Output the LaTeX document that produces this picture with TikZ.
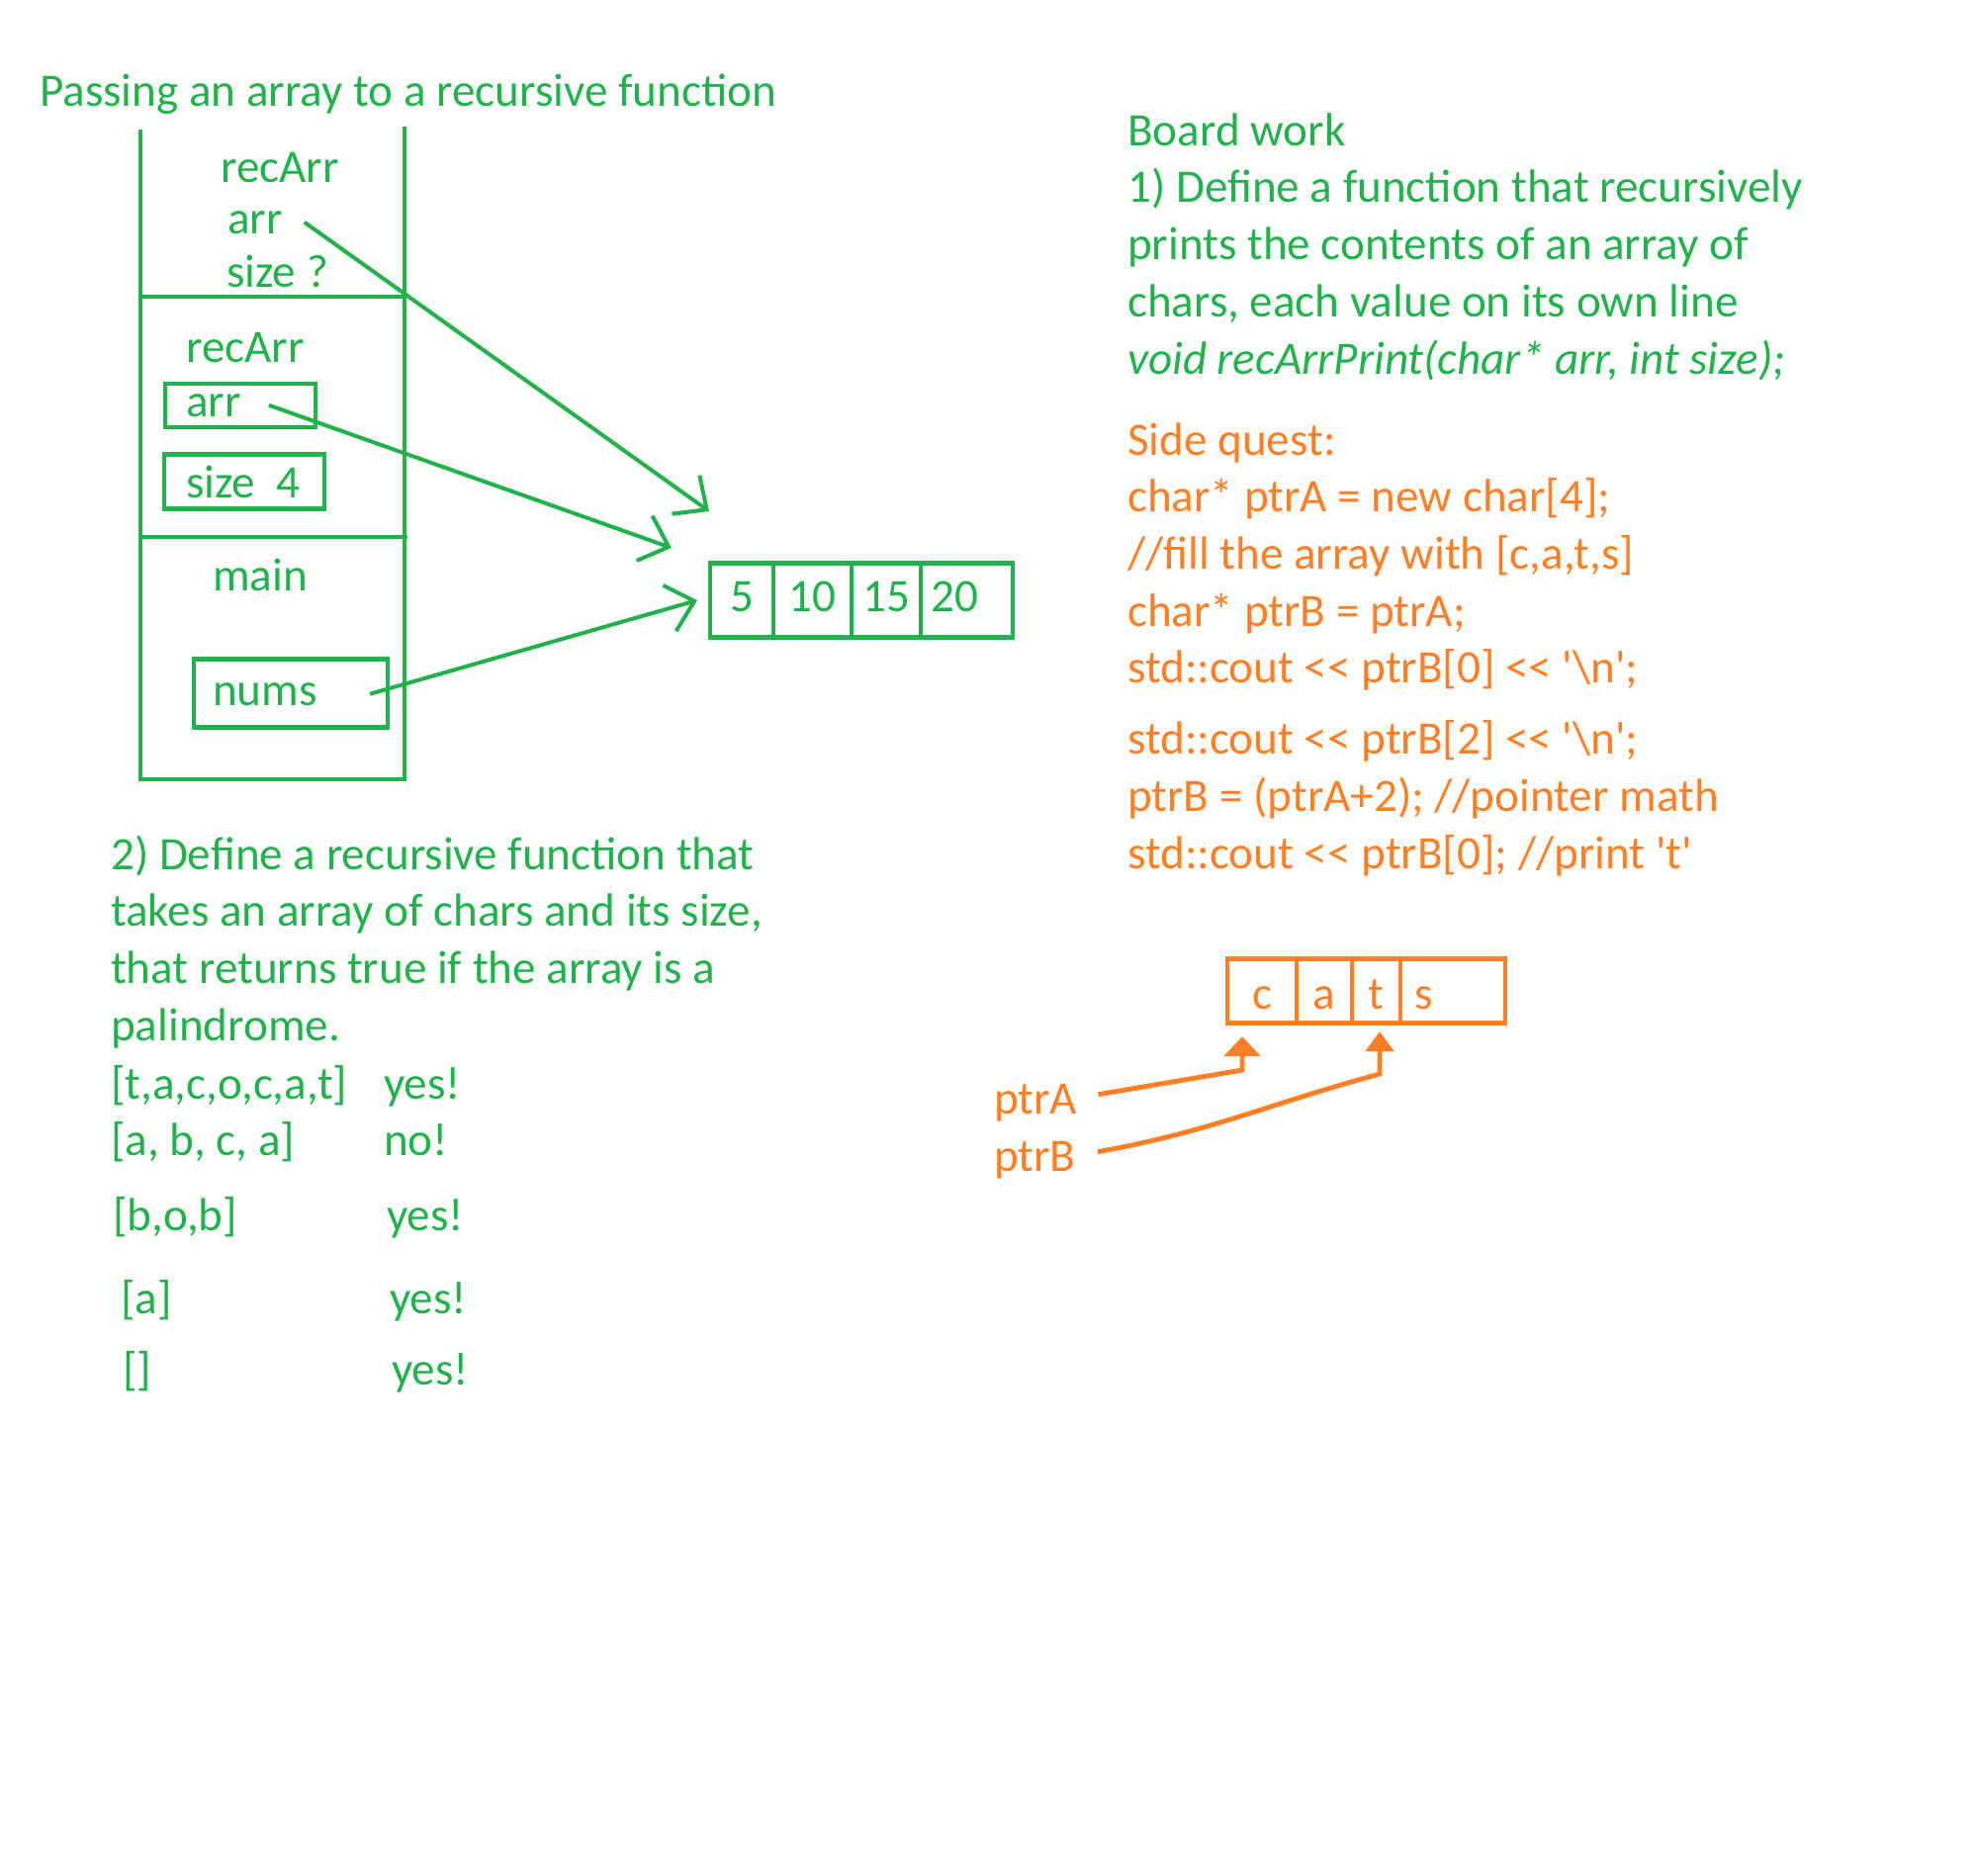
\documentclass[tikz,border=0pt]{standalone}
\usepackage{fontspec}
\setmainfont{Carlito}[Ligatures=TeXOff]
\usetikzlibrary{arrows.meta,positioning}

\definecolor{boardgreen}{HTML}{22B14C}
\definecolor{questorange}{HTML}{FF7F27}
\newcommand{\sq}{\textquotesingle}

\begin{document}
\begin{tikzpicture}[x=0.01cm,y=-0.01cm,line width=1.25pt,
                    >={Straight Barb[length=2.6mm,width=4.8mm]},
                    every node/.style={font=\fontsize{13.4}{16.4}\selectfont},
                    every text node part/.style={align=left}]
  \tikzstyle{txt}=[anchor=base west,inner sep=0pt]
  \tikzstyle{cell}=[draw,outer sep=0pt,inner sep=0pt,minimum height=0.75cm,
                    text height=6.3pt,text depth=0pt]
  \tikzstyle{catcell}=[cell,minimum height=0.65cm,text height=10.7pt]
  \tikzstyle{var}=[draw,outer sep=0pt,inner sep=0pt]

  \useasboundingbox (0,0) rectangle (2000,1896);

  \begin{scope}[boardgreen]
  \node[txt] (title) at (38,107) {Passing an array to a recursive function};

  % stack frames
  \draw (142,131) -- (142,788) -- (409,788) -- (409,128);
  \draw (142,300) -- (409,300);
  \draw (142,543) -- (412,543);

  \node[txt] (rec1)  at (221,184) {recArr};
  \node[txt] (arr1)  at (228,236) {arr};
  \node[txt] (size1) at (227,290) {size ?};

  \node[txt] (rec2)  at (186,366) {recArr};
  \node[var,minimum width=1.52cm,minimum height=0.44cm] (arrbox) at (243,410) {};
  \node[txt] (arr2)  at (186,421) {arr};
  \node[var,minimum width=1.62cm,minimum height=0.55cm] (sizebox) at (247,487) {};
  \node[txt] (size2) at (186,503) {size\ \ 4};

  \node[txt] (main)  at (213,597) {main};
  \node[var,minimum width=1.96cm,minimum height=0.69cm] (numsbox) at (294,701) {};
  \node[txt] (nums)  at (213,713) {nums};

  % the array
  \node[cell,minimum width=0.64cm,anchor=west] (n1) at (718,607) {5};
  \node[cell,minimum width=0.79cm,right=0pt of n1] (n2) {10};
  \node[cell,minimum width=0.70cm,right=0pt of n2] (n3) {15};
  \node[cell,minimum width=0.93cm,text width=0.72cm,right=0pt of n3] (n4) {20};

  \coordinate (tip1) at (717,517);
  \coordinate (tip2) at (679,554);
  \draw[->,line width=1.15pt] ([xshift=2mm]arr1.east) -- (tip1);
  \draw[->,line width=1.15pt] ([xshift=2.6mm]arr2.east) -- (tip2);
  \draw[->,line width=1.15pt] ([xshift=5.1mm]nums.east) -- ([xshift=-1.3mm]n1.west);

  \node[txt] (board) at (1138,378) {Board work\\1) Define a function that recursively\\prints the contents of an array of\\chars, each value on its own line\\\textit{void recArrPrint(char* arr, int size);}};

  \node[txt] (task2) at (110,1052) {2) Define a recursive function that\\takes an array of chars and its size,\\that returns true if the array is a\\palindrome.};
  \node[txt] (p1) at (110,1111) {[t,a,c,o,c,a,t]};
  \node[txt] (y1) at (386,1111) {yes!};
  \node[txt] (p2) at (110,1168) {[a, b, c, a]};
  \node[txt] (y2) at (386,1168) {no!};
  \node[txt] (p3) at (112,1244) {[b,o,b]};
  \node[txt] (y3) at (389,1244) {yes!};
  \node[txt] (p4) at (120,1328) {[a]};
  \node[txt] (y4) at (392,1328) {yes!};
  \node[txt] (p5) at (122,1400) {[]};
  \node[txt] (y5) at (394,1400) {yes!};
  \end{scope}

  \begin{scope}[questorange]
  \node[txt] (quest) at (1138,878) {Side quest:\\char* ptrA = new char[4];\\//fill the array with [c,a,t,s]\\char* ptrB = ptrA;\\std::cout << ptrB[0] << \sq\textbackslash n\sq;\\[4pt]std::cout << ptrB[2] << \sq\textbackslash n\sq;\\ptrB = (ptrA+2); //pointer math\\std::cout << ptrB[0]; //print \sq t\sq};

  % cats
  \node[catcell,minimum width=0.70cm,anchor=west] (k1) at (1241,1002) {c};
  \node[catcell,minimum width=0.56cm,right=0pt of k1] (k2) {a};
  \node[catcell,minimum width=0.49cm,right=0pt of k2] (k3) {t};
  \node[catcell,minimum width=1.06cm,text width=0.78cm,right=0pt of k3] (k4) {s};

  \node[txt] (ptrA) at (1003,1126) {ptrA};
  \node[txt] (ptrB) at (1003,1184) {ptrB};
  \coordinate (tipA) at (1256,1048);
  \coordinate (tipB) at (1395,1043);
  \draw[-{Triangle[length=2mm,width=3.6mm]},line width=1.4pt]
    ([xshift=1.9mm,yshift=0.8mm]ptrA.east) -- ([yshift=-3.4mm]tipA) -- (tipA);
  \draw[-{Triangle[length=2mm,width=2.8mm]},line width=1.4pt]
    ([xshift=2mm,yshift=0.8mm]ptrB.east) to[out=10,in=195] ([yshift=-4.3mm]tipB) -- (tipB);
  \end{scope}
\end{tikzpicture}
\end{document}
